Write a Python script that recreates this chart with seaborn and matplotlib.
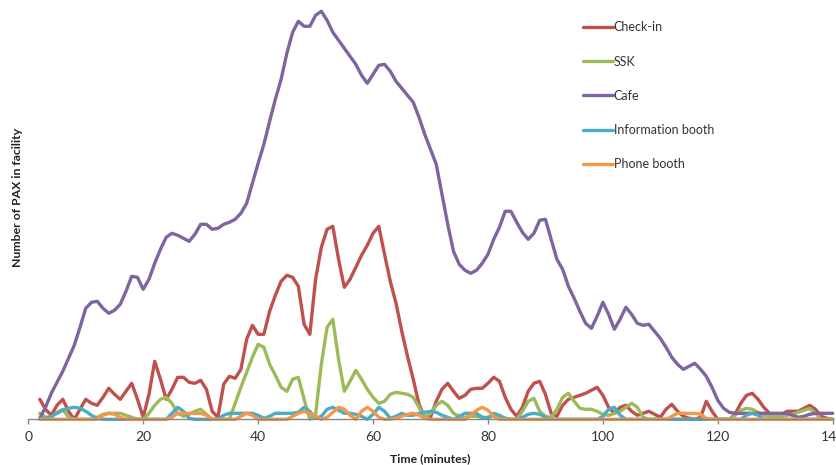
import numpy as np
import pandas as pd
import matplotlib
matplotlib.use("Agg")
import matplotlib.pyplot as plt
import seaborn as sns

sns.set_theme(style="white")
plt.rcParams["font.family"] = ["Lato", "DejaVu Sans"]

# minutes 2..140, one reading per minute (arbitrary PAX scale)
minutes = np.arange(2, 141)

checkin = [
    20, 10, 4, 14, 20, 8, 0, 10, 20, 16, 14, 22, 31, 25, 20, 28, 36, 20, 2,
    25, 58, 40, 20, 30, 42, 42, 37, 36, 39, 30, 8, 2, 35, 43, 41, 50, 80, 94,
    85, 85, 108, 124, 138, 144, 142, 133, 95, 85, 140, 172, 190, 193, 160, 132,
    140, 152, 164, 174, 186, 193, 165, 138, 116, 88, 63, 40, 15, 2, 2, 18, 30,
    36, 28, 21, 24, 30, 31, 31, 36, 42, 38, 22, 10, 3, 12, 28, 36, 38, 25, 6,
    3, 14, 20, 22, 24, 26, 29, 32, 24, 12, 6, 12, 14, 8, 4, 6, 8, 5, 2, 10, 15,
    8, 3, 1, 0, 2, 18, 8, 0, 0, 0, 5, 16, 24, 26, 20, 12, 6, 0, 4, 8, 8, 8, 11,
    14, 10, 3, 1, 0,
]
ssk = [
    6, 2, 2, 7, 10, 2, 0, 0, 0, 0, 2, 5, 6, 6, 6, 4, 2, 0, 0, 6, 14, 20, 22,
    16, 6, 3, 5, 8, 10, 5, 0, 0, 0, 0, 16, 32, 47, 62, 75, 72, 55, 44, 32, 28,
    40, 42, 20, 0, 5, 55, 92, 100, 60, 28, 38, 49, 40, 30, 22, 16, 18, 25, 27,
    26, 25, 22, 12, 2, 6, 14, 18, 14, 6, 3, 2, 3, 3, 2, 2, 3, 2, 1, 0, 0, 8,
    18, 21, 8, 3, 2, 10, 22, 26, 18, 11, 10, 10, 8, 5, 4, 6, 8, 12, 16, 12, 2,
    0, 0, 0, 0, 0, 0, 0, 0, 0, 0, 0, 0, 0, 0, 0, 4, 9, 11, 10, 7, 4, 3, 3, 3,
    4, 5, 7, 9, 11, 6, 0, 0, 0,
]
cafe = [
    1, 12, 26, 37, 48, 61, 74, 92, 111, 117, 118, 111, 106, 109, 115, 128, 143,
    142, 130, 140, 156, 170, 182, 186, 184, 181, 178, 185, 195, 195, 190, 191,
    195, 197, 200, 206, 216, 236, 256, 275, 298, 320, 340, 366, 387, 398, 393,
    393, 404, 408, 399, 387, 379, 371, 363, 355, 344, 336, 345, 354, 355, 348,
    338, 331, 324, 317, 302, 285, 270, 255, 225, 195, 168, 155, 149, 146, 149,
    156, 165, 180, 192, 208, 208, 197, 187, 180, 186, 199, 200, 180, 160, 150,
    133, 121, 108, 96, 91, 103, 117, 105, 90, 100, 112, 105, 96, 94, 95, 88,
    81, 72, 62, 55, 50, 53, 56, 50, 43, 32, 19, 11, 7, 6, 6, 6, 6, 6, 6, 6, 6,
    6, 6, 4, 2, 3, 5, 6, 6, 6, 6,
]
info_booth = [
    0, 1, 3, 6, 9, 11, 12, 11, 8, 4, 1, 0, 0, 0, 0, 0, 0, 0, 0, 0, 0, 0, 0, 6,
    12, 8, 1, 0, 0, 0, 0, 0, 4, 6, 6, 6, 6, 6, 4, 1, 3, 6, 6, 6, 6, 7, 12, 8,
    1, 3, 10, 12, 9, 6, 6, 5, 3, 0, 5, 12, 8, 1, 3, 6, 4, 4, 6, 7, 8, 7, 4, 2,
    0, 3, 6, 6, 6, 2, 1, 6, 4, 1, 0, 0, 2, 5, 6, 5, 2, 0, 0, 0, 0, 0, 0, 0, 0,
    0, 3, 10, 12, 4, 0, 0, 0, 0, 0, 0, 0, 0, 0, 0, 0, 0, 0, 0, 0, 0, 0, 0, 0,
    0, 0, 4, 6, 4, 0, 0, 0, 0, 0, 0, 0, 0, 0, 0, 0, 0, 0,
]
phone_booth = [
    0, 0, 0, 0, 0, 0, 0, 0, 0, 0, 0, 4, 6, 5, 2, 0, 0, 0, 0, 0, 0, 0, 0, 2, 6,
    6, 6, 6, 6, 4, 0, 0, 0, 0, 0, 3, 6, 4, 0, 0, 0, 0, 0, 0, 3, 6, 8, 6, 3, 0,
    2, 7, 12, 10, 4, 0, 8, 12, 8, 2, 0, 0, 1, 3, 5, 6, 4, 1, 0, 0, 0, 0, 0, 0,
    0, 4, 9, 12, 9, 3, 0, 0, 0, 0, 0, 0, 0, 0, 0, 0, 0, 0, 0, 0, 0, 0, 0, 0,
    0, 0, 0, 0, 0, 0, 0, 0, 0, 0, 0, 0, 3, 6, 6, 6, 6, 5, 1, 0, 0, 0, 0, 0, 0,
    0, 0, 0, 0, 0, 0, 0, 0, 0, 0, 0, 0, 0, 0, 0, 0,
]

facilities = ["Check-in", "SSK", "Cafe", "Information booth", "Phone booth"]
colors = ["#C0504D", "#9BBB59", "#8064A2", "#4BACC6", "#F79646"]

wide = pd.DataFrame({
    "time": minutes,
    "Check-in": checkin,
    "SSK": ssk,
    "Cafe": cafe,
    "Information booth": info_booth,
    "Phone booth": phone_booth,
})
long = wide.melt(id_vars="time", var_name="facility", value_name="pax")

W, H = 837, 465
fig = plt.figure(figsize=(W / 100, H / 100), dpi=100)
ax = fig.add_axes([28.3 / W, 45.7 / H, 804.4 / W, 414 / H])

sns.lineplot(data=long, x="time", y="pax", hue="facility", hue_order=facilities,
             palette=dict(zip(facilities, colors)), linewidth=2.4, ax=ax,
             legend=False)
for ln in ax.lines:
    ln.set_clip_on(False)
    ln.set_solid_capstyle("round")
    ln.set_solid_joinstyle("round")

ax.set_xlim(0, 140)
ax.set_ylim(0, 414)
ax.set_xticks(range(0, 141, 20))
ax.set_yticks([])
ax.set_xlabel("")
ax.set_ylabel("")
for side in ["top", "right", "left"]:
    ax.spines[side].set_visible(False)
ax.spines["bottom"].set_color("#868686")
ax.spines["bottom"].set_linewidth(1.0)
ax.tick_params(axis="x", direction="out", length=3.5, width=1.0, color="#868686",
               labelsize=10, labelcolor="#333333", pad=5, bottom=True)

# legend, drawn as in the Excel original (no frame, right top)
handles = [plt.Line2D([], [], color=c, lw=2.4) for c in colors]
fig.legend(handles, facilities, loc="upper left", bbox_to_anchor=(577 / W, 1 - 15 / H),
           frameon=False, fontsize=9, handlelength=2.4, handletextpad=0.05,
           labelspacing=1.78, borderpad=0, labelcolor="#333333")

fig.text(430 / W, 1 - 459 / H, "Time (minutes)", ha="center", va="center",
         fontsize=8.8, fontweight="bold", color="#222222")
fig.text(18 / W, 1 - 197 / H, "Number of PAX in facility", ha="center", va="center",
         rotation=90, fontsize=8.8, fontweight="bold", color="#222222")

fig.savefig("out.png", dpi=100)
